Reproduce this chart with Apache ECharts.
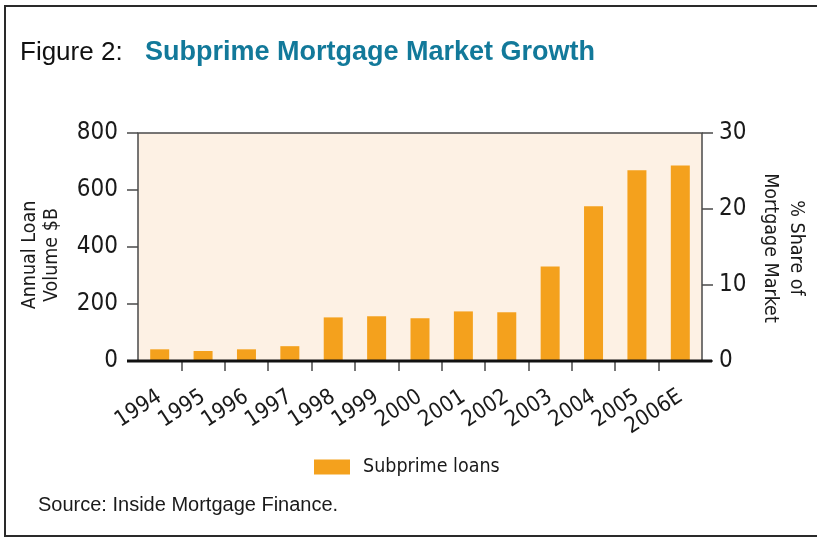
<!DOCTYPE html>
<html>
<head>
<meta charset="utf-8">
<script src="https://cdn.jsdelivr.net/npm/echarts@6/dist/echarts.min.js"></script>
<style>
  html, body { margin: 0; padding: 0; background: #ffffff; overflow: hidden; }
  #chart { width: 817px; height: 537px; }
</style>
</head>
<body>
<div id="chart"></div>
<script>
// Subprime originations, annual loan volume in $B
const years = ['1994', '1995', '1996', '1997', '1998', '1999', '2000',
               '2001', '2002', '2003', '2004', '2005', '2006E'];
const subprimeLoans = [41, 35, 41, 52, 153, 157, 150, 174, 171, 332, 543, 669, 686];
const volumeTicks = [0, 200, 400, 600, 800];
const shareTicks = [0, 10, 20, 30];

const NARROW = '"Liberation Sans Narrow", "DejaVu Sans Condensed", "Arial Narrow", sans-serif';
const PLAIN = '"Liberation Sans", Arial, Helvetica, sans-serif';
const BAR = '#f4a11d';
const TEAL = '#12799a';

// plot area in pixels
const G = { left: 138, top: 133, right: 817 - 702, bottom: 537 - 361 };
const baseY = 537 - G.bottom;
const plotRight = 817 - G.right;

const chart = echarts.init(document.getElementById('chart'), null, { renderer: 'canvas' });

chart.setOption({
  animation: false,
  backgroundColor: '#ffffff',
  grid: {
    left: G.left, top: G.top, right: G.right, bottom: G.bottom,
    show: true, backgroundColor: '#fdf1e4', borderColor: '#4a4a4a', borderWidth: 1.5
  },
  legend: {
    data: ['Subprime loans'],
    left: 314, top: 457, padding: 0,
    itemWidth: 36, itemHeight: 15,
    icon: 'rect',
    textStyle: { fontFamily: NARROW, fontSize: 19.5, color: '#1a1a1a', padding: [0, 0, 0, 8] }
  },
  xAxis: {
    type: 'category',
    data: years,
    boundaryGap: true,
    axisLine: { show: false },
    axisTick: {
      show: true, length: 10, inside: false,
      interval: function (i) { return i > 0; },
      lineStyle: { color: '#4a4a4a', width: 1.5 }
    },
    axisLabel: {
      interval: 0, rotate: 33, margin: 34,
      fontFamily: NARROW, fontSize: 22, color: '#1a1a1a'
    },
    splitLine: { show: false }
  },
  yAxis: [
    {
      type: 'value', min: volumeTicks[0], max: volumeTicks[volumeTicks.length - 1], interval: 200,
      axisLine: { show: false },
      axisTick: { show: true, length: 11, lineStyle: { color: '#4a4a4a', width: 1.5 } },
      axisLabel: { margin: 20, fontFamily: NARROW, fontSize: 24, color: '#1a1a1a' },
      splitLine: { show: false }
    },
    {
      type: 'value', position: 'right',
      min: shareTicks[0], max: shareTicks[shareTicks.length - 1], interval: 10,
      axisLine: { show: false },
      axisTick: { show: true, length: 11, lineStyle: { color: '#4a4a4a', width: 1.5 } },
      axisLabel: { margin: 17, fontFamily: NARROW, fontSize: 24, color: '#1a1a1a' },
      splitLine: { show: false }
    }
  ],
  series: [
    {
      name: 'Subprime loans',
      type: 'bar',
      yAxisIndex: 0,
      data: subprimeLoans,
      barWidth: 19,
      itemStyle: { color: BAR }
    }
  ],
  graphic: [
    // outer frame (open on the right)
    {
      type: 'polyline', silent: true,
      shape: { points: [[900, 6], [5, 6], [5, 536], [900, 536]] },
      style: { fill: null, stroke: '#2a2a2a', lineWidth: 2 }
    },
    // no category tick at the right end of the plot
    {
      type: 'rect', silent: true, z: 9,
      shape: { x: plotRight - 2, y: baseY + 1, width: 4, height: 12 },
      style: { fill: '#ffffff' }
    },
    // heavy baseline under the bars
    {
      type: 'line', silent: true, z: 10,
      shape: { x1: G.left - 11, y1: baseY, x2: plotRight + 10, y2: baseY },
      style: { stroke: '#111111', lineWidth: 3 }
    },
    {
      type: 'text', left: 20, top: 40,
      style: { text: 'Figure 2:', fontFamily: PLAIN, fontSize: 26, fill: '#111111' }
    },
    {
      type: 'text', left: 145, top: 39,
      style: { text: 'Subprime Mortgage Market Growth', fontFamily: PLAIN, fontWeight: 'bold', fontSize: 27, fill: TEAL }
    },
    {
      type: 'text', x: 41, y: 255, rotation: Math.PI / 2,
      style: {
        text: 'Annual Loan\nVolume $B', fontFamily: NARROW, fontSize: 19.5, lineHeight: 22,
        fill: '#1a1a1a', align: 'center', verticalAlign: 'middle'
      }
    },
    {
      type: 'text', x: 783, y: 248, rotation: -Math.PI / 2,
      style: {
        text: '% Share of\nMortgage Market', fontFamily: NARROW, fontSize: 19.5, lineHeight: 26,
        fill: '#1a1a1a', align: 'center', verticalAlign: 'middle'
      }
    },
    {
      type: 'text', left: 38, top: 495,
      style: { text: 'Source: Inside Mortgage Finance.', fontFamily: PLAIN, fontSize: 20, fill: '#1a1a1a' }
    }
  ]
});
</script>
</body>
</html>
